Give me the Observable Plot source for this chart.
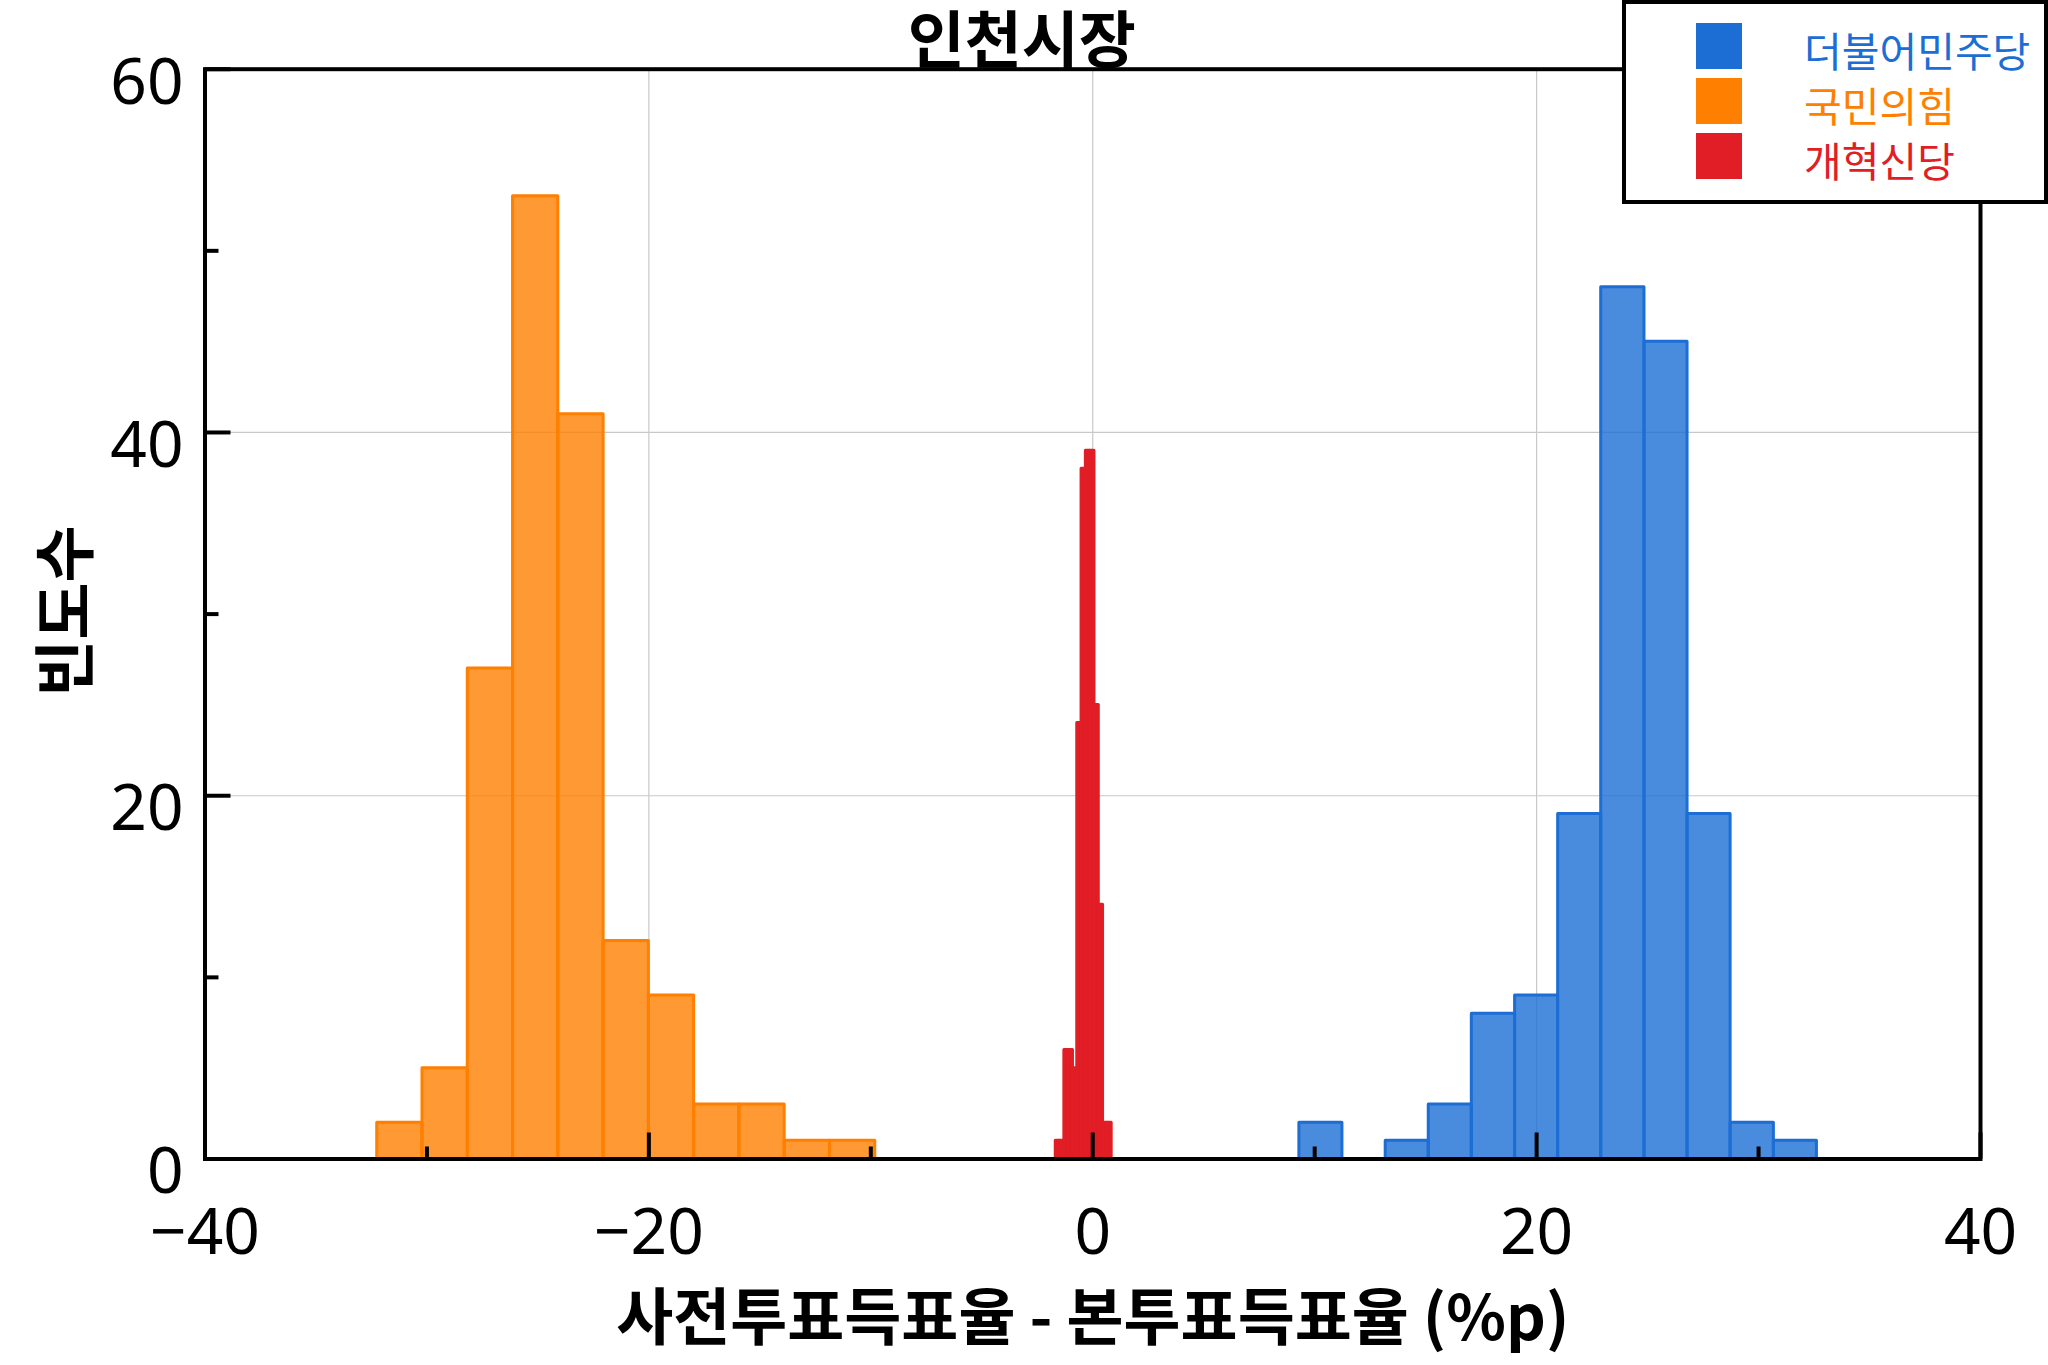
<!DOCTYPE html>
<html>
<head>
<meta charset="utf-8">
<script src="https://cdn.jsdelivr.net/npm/d3@7"></script>
<script src="https://cdn.jsdelivr.net/npm/@observablehq/plot@0.6"></script>
<style>
  html, body { margin: 0; padding: 0; background: #ffffff; }
  #wrap { position: relative; width: 2048px; height: 1365px; overflow: hidden; }
  #wrap svg { display: block; position: absolute; left: 0; top: 0; }
  #legend { position: absolute; left: 1622px; top: 0px; width: 418px; height: 196px;
            border: 4px solid #000; background: #fff; }
  .sw { position: absolute; left: 70px; width: 46px; height: 46px; }
  .lt { position: absolute; left: 178px; font-family: "Noto Sans CJK KR", sans-serif;
        font-size: 41px; line-height: 41px; white-space: nowrap; }
</style>
</head>
<body>
<div id="wrap"></div>
<script>
// ---------------- data ----------------
const parties = ["더불어민주당", "국민의힘", "개혁신당"];
const partyColors = ["#1c6ed4", "#ff7f00", "#e11d25"];

// bin edges and counts
const demEdges = [9.31, 11.25, 13.20, 15.14, 17.08, 19.03, 20.97, 22.91, 24.86, 26.80, 28.74, 30.69, 32.63];
const demCounts = [2, 0, 1, 3, 8, 9, 19, 48, 45, 19, 2, 1];

const pppEdges = [-32.24, -30.20, -28.16, -26.12, -24.08, -22.04, -20.00, -17.96, -15.92, -13.88, -11.84, -9.80];
const pppCounts = [2, 5, 27, 53, 41, 12, 9, 3, 3, 1, 1];

const refEdges = [-1.667, -1.473, -1.279, -1.085, -0.891, -0.698, -0.504, -0.310, -0.116, 0.078, 0.272, 0.465, 0.659, 0.853];
const refCounts = [1, 1, 6, 6, 5, 24, 38, 39, 39, 25, 14, 2, 2];

const xMajorTicks = [-40, -20, 0, 20, 40];
const xMinorTicks = [-30, -10, 10, 30];
const yMajorTicks = [0, 20, 40, 60];
const yMinorTicks = [10, 30, 50];
const xGridTicks = [-20, 0, 20];
const yGridTicks = [20, 40];

const titleText = "인천시장";
const xLabelText = "사전투표득표율 - 본투표득표율 (%p)";
const yLabelText = "빈도수";

// ---------------- build ----------------
const toBins = (party, edges, counts) =>
  counts.map((c, i) => ({party, x1: edges[i], x2: edges[i + 1], count: c})).filter(d => d.count > 0);

const pppBins = toBins(parties[1], pppEdges, pppCounts);
const demBins = toBins(parties[0], demEdges, demCounts);
const refBins = toBins(parties[2], refEdges, refCounts);

const fmt = d => (d < 0 ? "\u2212" + Math.abs(d) : String(d));
const korFont = "'Noto Sans CJK KR', 'Noto Sans', sans-serif";
const numFont = "'Noto Sans', 'DejaVu Sans', sans-serif";

const barMark = (data, opacity) => Plot.rect(data, {
  x1: "x1", x2: "x2", y1: 0, y2: "count",
  fill: "party", stroke: "party", fillOpacity: opacity, strokeWidth: 3, strokeLinejoin: "round"
});

const chart = Plot.plot({
  width: 2048,
  height: 1365,
  marginLeft: 204.5,
  marginRight: 68,
  marginTop: 68.7,
  marginBottom: 206.5,
  style: {background: "#ffffff", fontFamily: numFont, overflow: "visible"},
  x: {domain: [-40, 40]},
  y: {domain: [0, 60]},
  color: {domain: parties, range: partyColors},
  marks: [
    Plot.gridX({ticks: xGridTicks, stroke: "#c8c8c8", strokeOpacity: 1, strokeWidth: 1.2}),
    Plot.gridY({ticks: yGridTicks, stroke: "#c8c8c8", strokeOpacity: 1, strokeWidth: 1.2}),
    barMark(pppBins, 0.8),
    barMark(demBins, 0.8),
    barMark(refBins, 1),
    Plot.frame({stroke: "#000", strokeWidth: 4}),
    // inward tick marks
    Plot.axisX({ticks: xMajorTicks, tickSize: -26, fill: "none", stroke: "#000", strokeWidth: 4}),
    Plot.axisX({ticks: xMinorTicks, tickSize: -12, fill: "none", stroke: "#000", strokeWidth: 4}),
    Plot.axisY({ticks: yMajorTicks, tickSize: -26, fill: "none", stroke: "#000", strokeWidth: 4}),
    Plot.axisY({ticks: yMinorTicks, tickSize: -14, fill: "none", stroke: "#000", strokeWidth: 4}),
    // tick labels
    Plot.axisX({ticks: xMajorTicks, tickSize: 0, tickPadding: 50, fontSize: 64, tickFormat: fmt,
                label: null, fill: "#000", fontFamily: numFont}),
    Plot.axisY({ticks: yMajorTicks, tickSize: 0, tickPadding: 21.5, fontSize: 64, dy: 14, tickFormat: fmt,
                label: null, fill: "#000", fontFamily: numFont}),
    // titles
    Plot.text([titleText], {text: d => d, frameAnchor: "top", dx: -71, dy: -25.7, textAnchor: "middle",
                lineAnchor: "middle", fontSize: 62, fontWeight: "bold", fontFamily: korFont, fill: "#000"}),
    Plot.text([xLabelText], {text: d => d, frameAnchor: "bottom", dy: 161.5, textAnchor: "middle",
                lineAnchor: "middle", fontSize: 62, fontWeight: "bold", fontFamily: korFont, fill: "#000"}),
    Plot.text([yLabelText], {text: d => d, frameAnchor: "left", dx: -136.5, dy: -3, rotate: -90,
                textAnchor: "middle", lineAnchor: "middle", fontSize: 62, fontWeight: "bold",
                fontFamily: korFont, fill: "#000"})
  ]
});

const wrap = document.getElementById("wrap");
wrap.appendChild(chart);

// legend (HTML, over the top-right corner)
const legend = document.createElement("div");
legend.id = "legend";
const swTops = [19.3, 74.3, 128.7];
const txtTops = [25.1, 80.1, 135.1];
parties.forEach((p, i) => {
  const sw = document.createElement("div");
  sw.className = "sw";
  sw.style.top = swTops[i] + "px";
  sw.style.background = partyColors[i];
  legend.appendChild(sw);
  const t = document.createElement("div");
  t.className = "lt";
  t.style.top = txtTops[i] + "px";
  t.style.color = partyColors[i];
  t.textContent = p;
  legend.appendChild(t);
});
wrap.appendChild(legend);
</script>
</body>
</html>
